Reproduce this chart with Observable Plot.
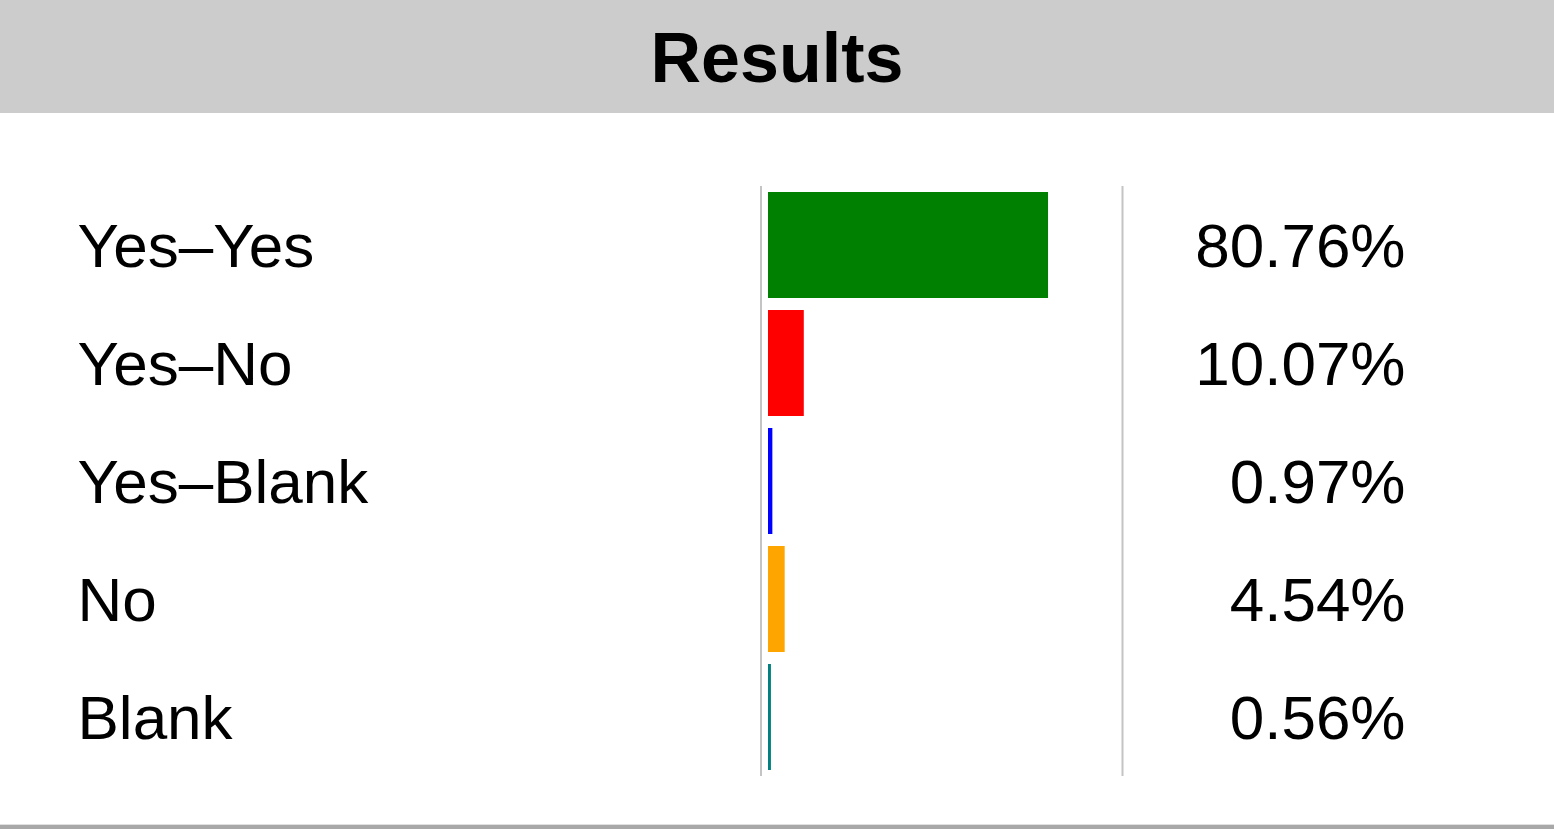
<!DOCTYPE html>
<html>
<head>
<meta charset="utf-8">
<script src="https://cdn.jsdelivr.net/npm/d3@7"></script>
<script src="https://cdn.jsdelivr.net/npm/@observablehq/plot@0.6"></script>
<style>
  html, body { margin: 0; padding: 0; background: #fff; }
  body { width: 1554px; height: 829px; overflow: hidden; font-family: "Liberation Sans", Arial, sans-serif; }
  #header { height: 113px; background: #cccccc; display: flex; align-items: center; justify-content: center; }
  #header h1 { margin: 0; font-size: 70px; font-weight: bold; color: #000; font-family: "Liberation Sans", Arial, sans-serif; line-height: 1; padding-top: 2px; }
  #chart svg { display: block; }
  #footer { height: 4px; border-top: 1px solid #e0e0e0; background: #a8a8a8; }
</style>
</head>
<body>
<div id="header"><h1>Results</h1></div>
<div id="chart"></div>
<div id="footer"></div>
<script>
const categories = ["Yes–Yes", "Yes–No", "Yes–Blank", "No", "Blank"];
const values = [80.76, 10.07, 0.97, 4.54, 0.56];
const labels = ["80.76%", "10.07%", "0.97%", "4.54%", "0.56%"];
const colors = ["#008000", "#ff0000", "#0000ff", "#ffa500", "#008080"];

const data = categories.map((c, i) => ({category: c, value: values[i], label: labels[i]}));

const chart = Plot.plot({
  width: 1554,
  height: 711,
  marginLeft: 768,
  marginRight: 440.5,
  marginTop: 73,
  marginBottom: 48,
  style: {fontFamily: "'Liberation Sans', Arial, sans-serif", background: "#fff"},
  x: {domain: [0, 100], axis: null},
  y: {domain: categories, axis: null, paddingInner: 0.1, paddingOuter: 0.05},
  color: {domain: categories, range: colors},
  marks: [
    Plot.ruleX([0], {dx: -7.5, stroke: "#c4c4c4", strokeWidth: 2}),
    Plot.ruleX([100], {dx: 8.5, stroke: "#c4c4c4", strokeWidth: 2}),
    Plot.barX(data, {x: "value", y: "category", fill: "category", insetRight: -1}),
    Plot.text(data, {y: "category", text: "category", frameAnchor: "left", textAnchor: "start", dx: -691, dy: 2, fontSize: 62, fill: "#000"}),
    Plot.text(data, {y: "category", text: "label", frameAnchor: "right", textAnchor: "end", dx: 291.5, dy: 2, fontSize: 62, fill: "#000"})
  ]
});
document.getElementById("chart").appendChild(chart);
</script>
</body>
</html>
